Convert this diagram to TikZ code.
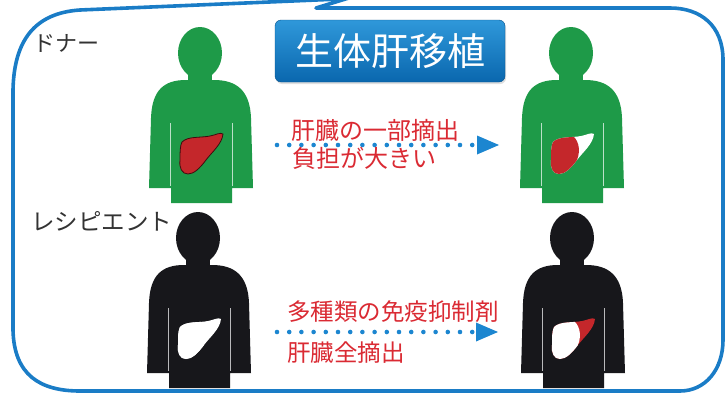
\documentclass[tikz,border=0pt]{standalone}
\usepackage{fontspec}
\usepackage{tikz}
\usetikzlibrary{arrows.meta,shadows}
\newfontfamily\jp{Noto Sans CJK JP}
\definecolor{frameblue}{HTML}{1A7CC6}
\definecolor{dotblue}{HTML}{1C86D0}
\definecolor{donorgreen}{HTML}{1E9A48}
\definecolor{recipblack}{HTML}{17171B}
\definecolor{notered}{HTML}{DA2A33}
\definecolor{liverred}{HTML}{C4272B}
\definecolor{liverline}{HTML}{3C0E0E}
\definecolor{labelgray}{HTML}{333333}
\definecolor{titletop}{HTML}{2F98DA}
\definecolor{titlebot}{HTML}{0A67AE}
\tikzset{
  frame/.style={draw=frameblue, line width=3.6pt, line join=round},
  titlebox/.style={draw=titlebot!80!black, top color=titletop, bottom color=titlebot,
                   rounded corners=6pt, minimum width=230pt, minimum height=62pt,
                   inner sep=0pt, text=white, font=\jp\fontsize{38}{40}\selectfont,
                   drop shadow={opacity=0.25, shadow xshift=1pt, shadow yshift=-2pt}},
  who/.style={anchor=west, text=labelgray, inner sep=0pt},
  remark/.style={anchor=west, text=notered, inner sep=0pt},
  dotarrow/.style={draw=dotblue, line width=4.6pt, line cap=round,
                   dash pattern=on 0pt off 12.2pt,
                   -{Triangle[length=22pt,width=19pt,line width=0pt]}},
  liver outline/.style={insert path={
    (-18,114) .. controls (-12,108) and (0,110) .. (10,108)
    .. controls (16,107) and (20,104) .. (23,106)
    .. controls (22,116) and (12,124) .. (6,132)
    .. controls (0,140) and (-6,146) .. (-12,146)
    .. controls (-18,146) and (-21,140) .. (-20,132)
    .. controls (-20,124) and (-20,118) .. (-18,114) -- cycle}},
  lobe cut/.style={insert path={
    -- (2,95) -- (2,108) .. controls (9,114) and (10,126) .. (4,136) -- (4,160)}},
  pics/person/.style={code={
    \fill[#1] (0,25) ellipse[x radius=22, y radius=26];
    \fill[#1] (-12,35) rectangle (12,60);
    \fill[#1] (-51,160) -- (-49,90) .. controls (-48,62) and (-36,52) .. (-14,52)
      -- (14,52) .. controls (36,52) and (50,62) .. (51,90) -- (53,160)
      -- (32,160) -- (32,175) -- (-29,175) -- (-29,160) -- cycle;
    \draw[white, opacity=0.7, line width=0.9pt] (-30,95) -- (-30,158) (32,95) -- (32,158);
  }},
  pics/liver/.style n args={3}{code={
    \fill[#2, liver outline];
    \begin{scope}
      \clip (-30,160) -- (-30,95) [lobe cut] -- cycle;
      \fill[#1, liver outline];
    \end{scope}
    \draw[#3, line width=0.8pt, liver outline];
  }}
}

\begin{document}
\begin{tikzpicture}[x=1pt,y=-1pt]
  \useasboundingbox (0,0) rectangle (726,394);
  % speech-bubble frame
  \draw[frame] (340,-1) -- (80,10) .. controls (35,13) and (14,40) .. (13,90)
    -- (13,330) .. controls (14,375) and (40,391) .. (80,391) -- (680,391)
    .. controls (705,391) and (723,370) .. (723,340) -- (723,60)
    .. controls (723,25) and (700,8) .. (670,8) -- (316,8) -- (352,-3);

  \node[titlebox] (title) at (390,51) {生体肝移植};

  \node[who, font=\jp\fontsize{22}{24}\selectfont] (donor) at (33,43) {ドナー};
  \node[who, font=\jp\fontsize{23.5}{25}\selectfont] (recipient) at (31,221) {レシピエント};

  % donor before / after
  \pic at (200,28) {person=donorgreen};
  \pic at (200,28) {liver={liverred}{liverred}{liverline}};
  \pic at (571,28) {person=donorgreen};
  \pic at (571,28) {liver={liverred}{white}{draw=none}};

  % recipient before / after
  \pic at (198,213) {person=recipblack};
  \pic at (198,213) {liver={white}{white}{draw=none}};
  \pic at (572,213) {person=recipblack};
  \pic at (572,213) {liver={white}{liverred}{draw=none}};

  \coordinate (d0) at (277,145);
  \coordinate (d1) at (499,145);
  \draw[dotarrow] (d0) -- (d1);
  \node[remark, font=\jp\fontsize{24}{26}\selectfont] (part) at (291,130) {肝臓の一部摘出};
  \node[remark, font=\jp\fontsize{24}{26}\selectfont] (burden) at (292,158) {負担が大きい};

  \coordinate (r0) at (277,332);
  \coordinate (r1) at (498,332);
  \draw[dotarrow] (r0) -- (r1);
  \node[remark, font=\jp\fontsize{23.5}{25}\selectfont] (drugs) at (287,312) {多種類の免疫抑制剤};
  \node[remark, font=\jp\fontsize{23.5}{25}\selectfont] (whole) at (287,353) {肝臓全摘出};
\end{tikzpicture}
\end{document}
